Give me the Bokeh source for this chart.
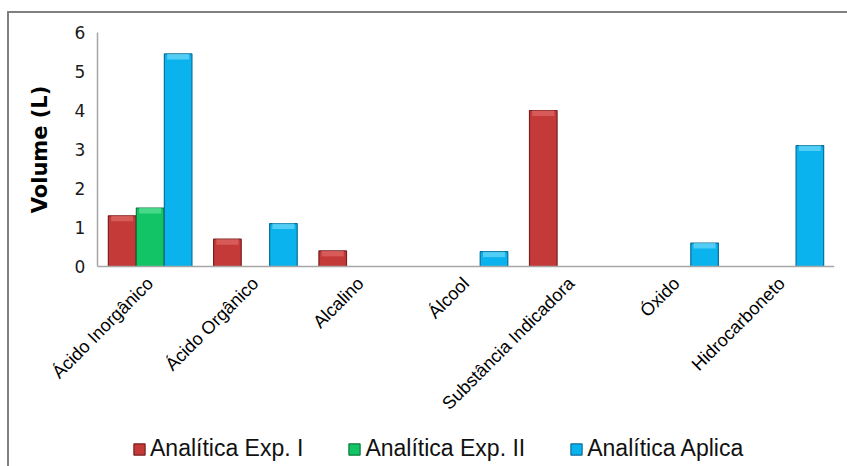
import math
from bokeh.plotting import figure
from bokeh.models import Range1d, FixedTicker, Legend, LegendItem, Label
from bokeh.embed import file_html
from bokeh.resources import INLINE

# Volumes (litres) of waste per class, by course
categories = ["Ácido Inorgânico", "Ácido Orgânico", "Alcalino", "Álcool",
              "Substância Indicadora", "Óxido", "Hidrocarboneto"]
exp_i = [1.3, 0.7, 0.4, 0.0, 4.0, 0.0, 0.0]
exp_ii = [1.5, 0.0, 0.0, 0.0, 0.0, 0.0, 0.0]
aplica = [5.45, 1.1, 0.0, 0.38, 0.0, 0.6, 3.1]
series_names = ["Analítica Exp. I", "Analítica Exp. II", "Analítica Aplica"]
y_ticks = [0, 1, 2, 3, 4, 5, 6]

fills = ["#C33A39", "#12C466", "#0AB3EE"]
edges = ["#7A1E1E", "#0B7A3C", "#0B6E96"]
lights = ["#E06A66", "#5EE39A", "#6FD9FA"]

# Category slots sit at 0..n on the x scale; the frame also covers the space
# left of the value axis, above 6 and below the zero line, so the axis texts
# and the legend are drawn inside it.
n = len(categories)
y_max = 6.0
y_top = y_max * (234 + 12) / 234
y_min = -y_max * 200 / 234
x_min = -88 / (737 / n)
centers = [i + 0.5 for i in range(n)]

p = figure(
    x_range=Range1d(x_min, n), y_range=Range1d(y_min, y_top),
    frame_width=825, frame_height=446,
    min_border_left=0, min_border_top=7, min_border_right=13, min_border_bottom=0,
    y_axis_location="right",
    output_backend="svg", toolbar_location=None,
    background_fill_color="white", border_fill_color="white",
    outline_line_color=None,
    styles={"margin-left": "7px", "margin-top": "11px",
            "border-left": "2px solid #808080", "border-top": "2px solid #808080"},
)

bar_w = 0.262
offsets = [-0.266, 0.0, 0.266]
renderers = []
for vals, off, fc, ec, lc in zip([exp_i, exp_ii, aplica], offsets, fills, edges, lights):
    xs = [c + off for c in centers]
    r = p.vbar(x=xs, top=vals, bottom=0, width=bar_w,
               fill_color=fc, line_color=ec, line_width=1.2)
    renderers.append(r)
    # lighter bevel strip on the top of each non-empty bar
    xs_nz = [x for x, v in zip(xs, vals) if v > 0]
    tops_nz = [v for v in vals if v > 0]
    bots_nz = [max(v - 0.14, 0) for v in tops_nz]
    p.vbar(x=xs_nz, top=tops_nz, bottom=bots_nz, width=bar_w * 0.8,
           fill_color=lc, fill_alpha=0.7, line_color=None)

p.xgrid.grid_line_color = None
p.ygrid.grid_line_color = None

# value axis, drawn at the left edge of the first slot; its labels sit left of the line
p.yaxis.fixed_location = 0
p.yaxis.bounds = (0, y_max)
p.yaxis.ticker = FixedTicker(ticks=y_ticks)
p.yaxis.major_label_text_font = "DejaVu Sans"
p.yaxis.major_label_text_font_size = "17px"
p.yaxis.major_label_text_color = "#1a1a1a"
p.yaxis.major_label_text_align = "right"
p.yaxis.major_label_standoff = -23
p.yaxis.major_tick_out = 0
p.yaxis.major_tick_in = 0
p.yaxis.major_tick_line_color = None
p.yaxis.minor_tick_line_color = None
p.yaxis.axis_line_color = "#A6A6A6"
p.yaxis.axis_line_width = 1.5

p.add_layout(Label(x=x_min * 0.648, y=y_max / 2, text="Volume (L)", angle=math.pi / 2,
                   text_align="center", text_baseline="middle",
                   text_font="DejaVu Sans", text_font_style="bold",
                   text_font_size="21px", text_color="#000000"))

# category axis, drawn at the zero line
p.xaxis.fixed_location = 0
p.xaxis.bounds = (0, n)
p.xaxis.ticker = FixedTicker(ticks=centers)
p.xaxis.major_label_overrides = {c: name for c, name in zip(centers, categories)}
p.xaxis.major_label_orientation = math.pi / 4
p.xaxis.major_label_text_font = "Liberation Sans"
p.xaxis.major_label_text_font_size = "18px"
p.xaxis.major_label_text_color = "#000000"
p.xaxis.major_label_standoff = 8
p.xaxis.major_tick_line_color = None
p.xaxis.minor_tick_line_color = None
p.xaxis.axis_line_color = "#A6A6A6"
p.xaxis.axis_line_width = 1.5

legend = Legend(
    items=[LegendItem(label=s, renderers=[r]) for s, r in zip(series_names, renderers)],
    orientation="horizontal", location=(123, 4),
    label_text_font="Liberation Sans", label_text_font_size="23px", label_text_color="#111111",
    glyph_width=14, glyph_height=14, label_standoff=4, spacing=44,
    padding=0, margin=0, border_line_color=None, background_fill_alpha=0,
)
p.add_layout(legend)

open("out.html", "w").write(file_html(p, INLINE))
